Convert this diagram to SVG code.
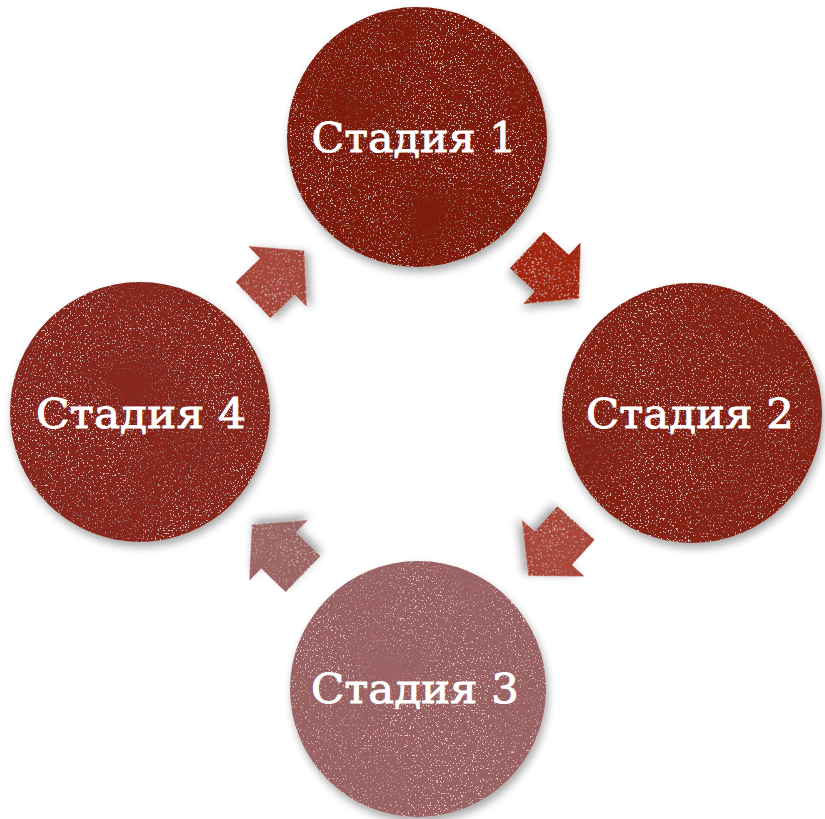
<svg xmlns="http://www.w3.org/2000/svg" width="825" height="819" viewBox="0 0 825 819">
  <defs>
    <filter id="tex" x="-10%" y="-10%" width="125%" height="130%">
      <feGaussianBlur in="SourceAlpha" stdDeviation="4" result="b"/>
      <feOffset in="b" dx="2" dy="5" result="ob"/>
      <feComponentTransfer in="ob" result="sh"><feFuncA type="linear" slope="0.35"/></feComponentTransfer>
      <feTurbulence type="fractalNoise" baseFrequency="0.6" numOctaves="2" seed="7" result="n"/>
      <feColorMatrix in="n" type="matrix" values="0 0 0 0 1  0 0 0 0 0.86  0 0 0 0 0.82  14 0 0 0 -8.9" result="sp"/>
      <feTurbulence type="fractalNoise" baseFrequency="0.01" numOctaves="2" seed="4" result="m"/>
      <feColorMatrix in="m" type="matrix" values="0 0 0 0 1  0 0 0 0 1  0 0 0 0 1  0 2.5 0 0 -0.6" result="mm"/>
      <feComposite in="sp" in2="mm" operator="in" result="sp2"/>
      <feComposite in="sp2" in2="SourceAlpha" operator="in" result="sp3"/>
      <feComponentTransfer in="sp3" result="sp4"><feFuncA type="linear" slope="0.7"/></feComponentTransfer>
      <feMerge><feMergeNode in="sh"/><feMergeNode in="SourceGraphic"/><feMergeNode in="sp4"/></feMerge>
    </filter>
    <path id="arr" d="M0,-25 L34,-25 L34,-42 L71,0 L34,42 L34,25 L0,25 Z"/>
  </defs>
  <style>
    .lbl { font-family: "DejaVu Serif", "Liberation Serif", serif; font-size: 41px; fill: #ffffff; stroke: #ffffff; stroke-width: 0.9px; text-anchor: middle; }
    .arrow { filter: url(#tex); }
  </style>

  <g id="connectors">
    <g transform="translate(527,250) rotate(43)">
      <use href="#arr" fill="#a1270c" class="arrow"/>
    </g>
    <g transform="translate(576,523) rotate(132)">
      <use href="#arr" fill="#a9463a" class="arrow"/>
    </g>
    <g transform="translate(303,574) rotate(-136)">
      <use href="#arr" fill="#9c6663" class="arrow"/>
    </g>
    <g transform="translate(253,300) rotate(-44)">
      <use href="#arr" fill="#a7463b" class="arrow"/>
    </g>
  </g>

  <g id="stage1">
    <circle cx="417" cy="137" r="130" fill="#7d1c0c" filter="url(#tex)"/>
    <text class="lbl" x="414" y="152" textLength="205" lengthAdjust="spacingAndGlyphs">Стадия 1</text>
  </g>
  <g id="stage2">
    <circle cx="692" cy="413" r="130" fill="#852313" filter="url(#tex)"/>
    <text class="lbl" x="690" y="428" textLength="208" lengthAdjust="spacingAndGlyphs">Стадия 2</text>
  </g>
  <g id="stage3">
    <circle cx="418" cy="689" r="128" fill="#9a6262" filter="url(#tex)"/>
    <text class="lbl" x="415" y="703" textLength="208" lengthAdjust="spacingAndGlyphs">Стадия 3</text>
  </g>
  <g id="stage4">
    <circle cx="140" cy="412" r="130" fill="#86281c" filter="url(#tex)"/>
    <text class="lbl" x="141" y="428" textLength="210" lengthAdjust="spacingAndGlyphs">Стадия 4</text>
  </g>
</svg>
